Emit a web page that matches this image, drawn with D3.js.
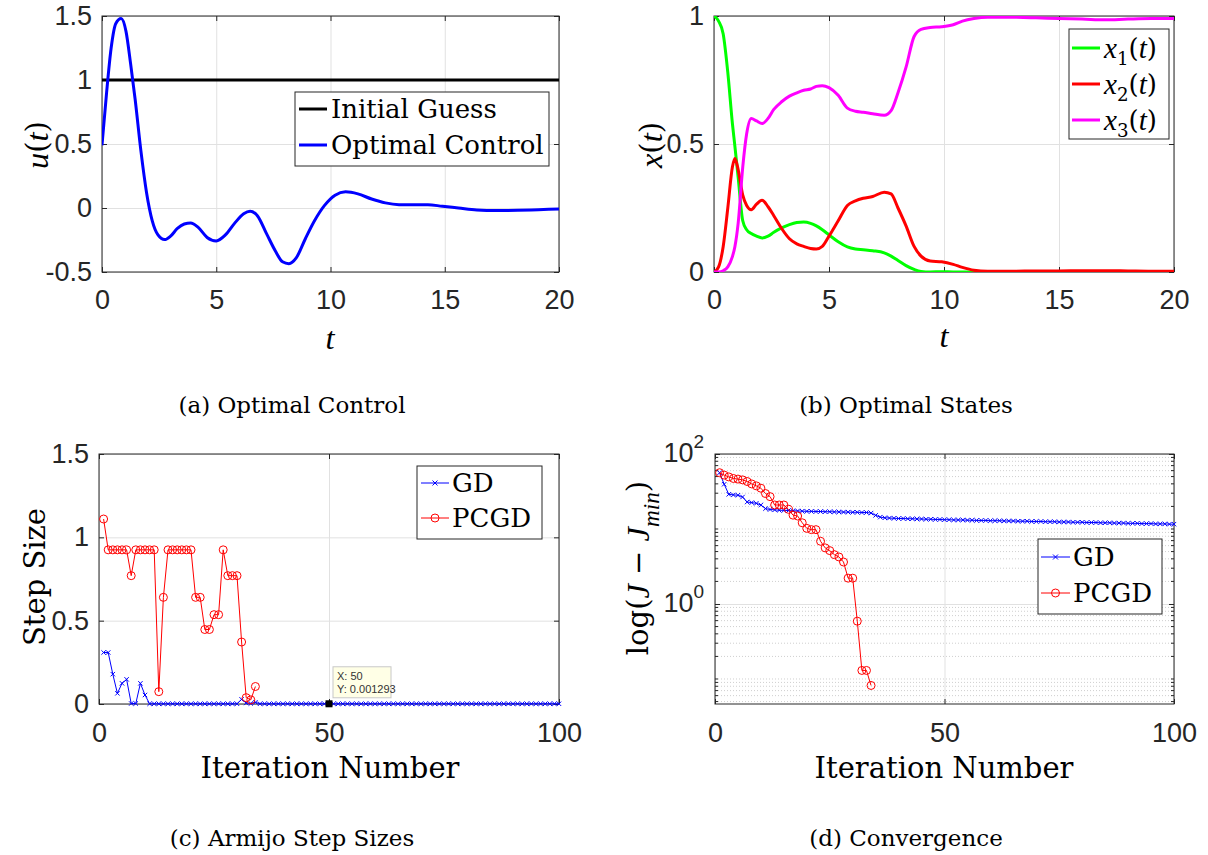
<!DOCTYPE html>
<html>
<head>
<meta charset="utf-8">
<script src="https://cdn.jsdelivr.net/npm/d3@7"></script>
<style>
  body { margin: 0; background: #fff; }
  svg { display: block; }
</style>
</head>
<body>
<div id="fig"></div>
<script>
// ---- (a) optimal control u(t)
const uT = [0,0.2,0.4,0.6,0.84,1.05,1.25,1.45,1.7,1.95,2.2,2.45,2.74,3.0,3.3,3.6,3.88,4.2,4.6,5.0,5.4,5.8,6.2,6.48,6.8,7.2,7.6,7.9,8.18,8.5,8.9,9.3,9.74,10.2,10.66,11.2,11.8,12.4,13.0,13.6,14.26,14.9,15.6,16.4,17.27,18.2,19.1,20]
const uOpt = [0.49,0.9,1.25,1.44,1.48,1.38,1.13,0.85,0.45,0.12,-0.1,-0.21,-0.247,-0.22,-0.16,-0.125,-0.117,-0.15,-0.23,-0.257,-0.21,-0.12,-0.045,-0.025,-0.06,-0.2,-0.34,-0.42,-0.435,-0.39,-0.24,-0.1,0.02,0.1,0.126,0.11,0.07,0.04,0.026,0.025,0.026,0.013,0,-0.015,-0.02,-0.018,-0.013,-0.008]
const guessT = [0, 20]
const uGuess = [1, 1]

// ---- (b) optimal states
const stateT = [0,0.2,0.4,0.6,0.8,0.91,1.05,1.25,1.42,1.62,1.85,2.09,2.35,2.6,2.94,3.28,3.6,3.9,4.2,4.45,4.71,5.0,5.4,5.8,6.15,6.49,6.9,7.4,7.7,8.0,8.35,8.7,9.0,9.4,9.9,10.4,10.8,11.3,11.9,13,14,15,16,17,18,19,20]
const x1 = [1.0,0.98,0.93,0.78,0.58,0.49,0.37,0.2,0.165,0.15,0.14,0.133,0.14,0.155,0.172,0.185,0.193,0.195,0.19,0.18,0.165,0.145,0.118,0.098,0.09,0.087,0.083,0.075,0.062,0.045,0.025,0.01,0.002,0,0.001,0,0,0,0,0,0,0,0,0,0,0,0]
const x2 = [0,0.02,0.1,0.25,0.41,0.443,0.4,0.3,0.26,0.243,0.265,0.28,0.255,0.22,0.17,0.13,0.11,0.1,0.092,0.09,0.1,0.14,0.2,0.26,0.278,0.288,0.295,0.312,0.305,0.25,0.18,0.1,0.062,0.043,0.04,0.03,0.018,0.007,0.003,0.003,0.004,0.004,0.005,0.005,0.004,0.003,0.003]
const x3 = [0,0,0.005,0.02,0.06,0.1,0.19,0.41,0.54,0.6,0.59,0.58,0.6,0.635,0.665,0.687,0.7,0.71,0.715,0.725,0.728,0.72,0.69,0.64,0.628,0.624,0.618,0.612,0.63,0.7,0.8,0.92,0.948,0.955,0.958,0.966,0.98,0.99,0.995,0.995,0.993,0.99,0.988,0.985,0.988,0.99,0.99]

// ---- (c) Armijo step sizes, iterations 1..n
const stepGD = [0.309,0.309,0.179,0.064,0.124,0.148,0.003,0.003,0.124,0.054,
  0.0013,0.0013,0.0013,0.0013,0.0013,0.0013,0.0013,0.0013,0.0013,0.0013,
  0.0013,0.0013,0.0013,0.0013,0.0013,0.0013,0.0013,0.0013,0.0013,0.0013,
  0.028,0.006,0.003,0.01,0.0013,0.0013,0.0013,0.0013,0.0013,0.0013,
  0.0013,0.0013,0.0013,0.0013,0.0013,0.0013,0.0013,0.0013,0.0013,0.001293,
  0.0013,0.0013,0.0013,0.0013,0.0013,0.0013,0.0013,0.0013,0.0013,0.0013,
  0.0013,0.0013,0.0013,0.0013,0.0013,0.0013,0.0013,0.0013,0.0013,0.0013,
  0.0013,0.0013,0.0013,0.0013,0.0013,0.0013,0.0013,0.0013,0.0013,0.0013,
  0.0013,0.0013,0.0013,0.0013,0.0013,0.0013,0.0013,0.0013,0.0013,0.0013,
  0.0013,0.0013,0.0013,0.0013,0.0013,0.0013,0.0013,0.0013,0.0013,0.0013]
const stepPCGD = [1.11,0.925,0.925,0.925,0.925,0.925,0.77,0.925,0.925,0.925,0.925,0.925,0.074,0.64,0.925,0.925,0.925,0.925,0.925,0.925,0.64,0.64,0.447,0.447,0.536,0.536,0.925,0.77,0.77,0.77,0.372,0.038,0.025,0.105]
const tipX = 50, tipY = 0.001293

// ---- (d) convergence J - Jmin
const costGD = [56.3,39.5,29.0,28.5,28.2,26.7,22.9,22.5,22.0,20.9,
  18.7,18.2,18.0,17.8,17.7,17.6,17.5,17.4,17.3,17.2,
  17.2,17.1,17.1,17.0,17.0,16.9,16.9,16.8,16.8,16.7,
  16.7,16.6,16.6,16.3,15.2,14.4,14.1,14.0,13.9,13.8,
  13.8,13.7,13.7,13.6,13.6,13.5,13.5,13.4,13.4,13.3,
  13.3,13.2,13.2,13.2,13.1,13.1,13.0,13.0,13.0,12.9,
  12.9,12.9,12.8,12.8,12.8,12.7,12.7,12.7,12.6,12.6,
  12.6,12.5,12.5,12.5,12.4,12.4,12.4,12.3,12.3,12.3,
  12.2,12.2,12.2,12.1,12.1,12.1,12.0,12.0,12.0,11.9,
  11.9,11.9,11.8,11.8,11.8,11.7,11.7,11.7,11.6,11.6]
const costPCGD = [56.3,52.3,49.5,47.2,46.3,45.2,43,39.9,37.6,35,29.7,27,20.9,20.9,20.9,18.3,15.3,14.9,12.1,10.2,9.8,9.8,6.86,5.6,5.15,4.55,4.24,3.63,2.21,2.21,0.59,0.13,0.13,0.082]

const tTicks = [0, 5, 10, 15, 20]
const uTicks = [-0.5, 0, 0.5, 1, 1.5]
const xStateTicks = [0, 0.5, 1]
const iterTicks = [0, 50, 100]
const stepTicks = [0, 0.5, 1, 1.5]
const costTicks = [1, 100]

const W = 1208, H = 855
const axisColor = "#262626", gridColor = "#e1e1e1"
const tickFont = "'Liberation Sans', Arial, sans-serif"
const texFont = "'DejaVu Serif', serif"
const mathFont = "'Liberation Serif', serif"

const svg = d3.select("#fig").append("svg")
  .attr("width", W).attr("height", H)
svg.append("rect").attr("width", W).attr("height", H).attr("fill", "#fff")

const A = {l: 102, r: 559, t: 16, b: 272}
const B = {l: 714, r: 1174, t: 16, b: 272}
const C = {l: 99, r: 559, t: 454, b: 704}
const D = {l: 715, r: 1174, t: 454, b: 704}

function grid(b, x, y, xt, yt) {
  const g = svg.append("g")
  g.append("g").attr("transform", `translate(0,${b.b})`)
    .call(d3.axisBottom(x).tickValues(xt).tickSize(-(b.b - b.t)).tickFormat(""))
    .call(s => { s.select(".domain").remove(); s.selectAll("line").attr("stroke", gridColor) })
  g.append("g").attr("transform", `translate(${b.l},0)`)
    .call(d3.axisLeft(y).tickValues(yt).tickSize(-(b.r - b.l)).tickFormat(""))
    .call(s => { s.select(".domain").remove(); s.selectAll("line").attr("stroke", gridColor) })
}

function frame(b, x, y, xt, yt, xpad, yfmt) {
  const g = svg.append("g")
  const style = s => {
    s.select(".domain").remove()
    s.selectAll("line").attr("stroke", axisColor)
    s.selectAll("text").attr("fill", axisColor).attr("font-family", tickFont).attr("font-size", 27)
  }
  g.append("g").attr("transform", `translate(0,${b.b})`)
    .call(d3.axisBottom(x).tickValues(xt).tickSizeInner(-5).tickSizeOuter(0).tickPadding(xpad).tickFormat(d => String(d)))
    .call(style)
  g.append("g").attr("transform", `translate(0,${b.t})`)
    .call(d3.axisTop(x).tickValues(xt).tickSizeInner(-5).tickSizeOuter(0).tickFormat(""))
    .call(style)
  g.append("g").attr("transform", `translate(${b.l},0)`)
    .call(d3.axisLeft(y).tickValues(yt).tickSizeInner(-5).tickSizeOuter(0).tickPadding(10).tickFormat(yfmt || (d => String(d))))
    .call(style)
  g.append("g").attr("transform", `translate(${b.r},0)`)
    .call(d3.axisRight(y).tickValues(yt).tickSizeInner(-5).tickSizeOuter(0).tickFormat(""))
    .call(style)
  g.append("rect").attr("x", b.l).attr("y", b.t)
    .attr("width", b.r - b.l).attr("height", b.b - b.t)
    .attr("fill", "none").attr("stroke", axisColor).attr("stroke-width", 1)
  return g
}

function clipFor(id, b) {
  svg.append("clipPath").attr("id", id).append("rect")
    .attr("x", b.l).attr("y", b.t).attr("width", b.r - b.l).attr("height", b.b - b.t)
  return `url(#${id})`
}

// italic math letters are set in a Times-like italic, closer to LaTeX
function mathText(sel, parts) {
  parts.forEach(p => {
    const t = sel.append("tspan").text(p.s)
    if (p.i) t.attr("font-style", "italic").attr("font-family", mathFont).attr("font-size", p.sub ? "80%" : "112%")
    if (p.sub) t.attr("baseline-shift", "sub")
    if (p.sub && !p.i) t.attr("font-size", "70%")
  })
  return sel
}

function label(x, y, parts, size, rotate, anchor) {
  const t = svg.append("text")
    .attr("transform", `translate(${x},${y})` + (rotate ? " rotate(-90)" : ""))
    .attr("text-anchor", anchor || "middle").attr("dominant-baseline", "central")
    .attr("font-family", texFont).attr("font-size", size).attr("fill", "#000")
  return mathText(t, parts)
}

function markers(g, pts, kind, color, r) {
  if (kind === "o") {
    g.selectAll(null).data(pts).enter().append("circle")
      .attr("cx", d => d[0]).attr("cy", d => d[1]).attr("r", r)
      .attr("fill", "none").attr("stroke", color).attr("stroke-width", 1)
  } else {
    g.selectAll(null).data(pts).enter().append("path")
      .attr("d", d => `M${d[0]-r},${d[1]-r}L${d[0]+r},${d[1]+r}M${d[0]-r},${d[1]+r}L${d[0]+r},${d[1]-r}`)
      .attr("stroke", color).attr("stroke-width", 1)
  }
}

function legend(box, items) {
  const g = svg.append("g")
  g.append("rect").attr("x", box.x0).attr("y", box.y0)
    .attr("width", box.x1 - box.x0).attr("height", box.y1 - box.y0)
    .attr("fill", "#fff").attr("stroke", axisColor).attr("stroke-width", 1)
  items.forEach(it => {
    g.append("line").attr("x1", box.l0).attr("x2", box.l1).attr("y1", it.y).attr("y2", it.y)
      .attr("stroke", it.color).attr("stroke-width", it.lw)
    if (it.marker) markers(g, [[(box.l0 + box.l1) / 2, it.y]], it.marker, it.color, it.marker === "o" ? 4 : 2.5)
    const t = g.append("text").attr("x", box.tx).attr("y", it.y)
      .attr("dominant-baseline", "central")
      .attr("font-family", texFont).attr("font-size", box.size).attr("fill", "#000")
    mathText(t, it.parts)
  })
}

// ================= (a)
{
  const x = d3.scaleLinear().domain([0, 20]).range([A.l, A.r])
  const y = d3.scaleLinear().domain([-0.5, 1.5]).range([A.b, A.t])
  grid(A, x, y, tTicks, uTicks)
  frame(A, x, y, tTicks, uTicks, 18)
  const clip = clipFor("clipA", A)
  svg.append("path").datum(uGuess).attr("clip-path", clip)
    .attr("d", d3.line().x((d, i) => x(guessT[i])).y(d => y(d)))
    .attr("fill", "none").attr("stroke", "#000").attr("stroke-width", 3)
  svg.append("path").datum(uOpt).attr("clip-path", clip)
    .attr("d", d3.line().x((d, i) => x(uT[i])).y(d => y(d)).curve(d3.curveMonotoneX))
    .attr("fill", "none").attr("stroke", "#0000ff").attr("stroke-width", 3)
  legend({x0: 295, y0: 92, x1: 549, y1: 166, l0: 299, l1: 327, tx: 331, size: 26}, [
    {y: 109, color: "#000", lw: 3, parts: [{s: "Initial Guess"}]},
    {y: 145, color: "#0000ff", lw: 3, parts: [{s: "Optimal Control"}]}
  ])
  label(37, 145, [{s: "u", i: 1}, {s: "("}, {s: "t", i: 1}, {s: ")"}], 29, true)
  label(330, 338, [{s: "t", i: 1}], 29)
  label(292, 405, [{s: "(a) Optimal Control"}], 23)
}

// ================= (b)
{
  const x = d3.scaleLinear().domain([0, 20]).range([B.l, B.r])
  const y = d3.scaleLinear().domain([0, 1]).range([B.b, B.t])
  grid(B, x, y, tTicks, xStateTicks)
  frame(B, x, y, tTicks, xStateTicks, 18)
  const clip = clipFor("clipB", B)
  const series = [[x1, "#00ff00"], [x2, "#ff0000"], [x3, "#ff00ff"]]
  series.forEach(([vals, color]) => {
    svg.append("path").datum(vals).attr("clip-path", clip)
      .attr("d", d3.line().x((d, i) => x(stateT[i])).y(d => y(d)).curve(d3.curveMonotoneX))
      .attr("fill", "none").attr("stroke", color).attr("stroke-width", 3)
  })
  legend({x0: 1069, y0: 29, x1: 1169, y1: 139, l0: 1072, l1: 1100, tx: 1104, size: 26}, [
    {y: 48, color: "#00ff00", lw: 3, parts: [{s: "x", i: 1}, {s: "1", sub: 1}, {s: "("}, {s: "t", i: 1}, {s: ")"}]},
    {y: 84, color: "#ff0000", lw: 3, parts: [{s: "x", i: 1}, {s: "2", sub: 1}, {s: "("}, {s: "t", i: 1}, {s: ")"}]},
    {y: 120, color: "#ff00ff", lw: 3, parts: [{s: "x", i: 1}, {s: "3", sub: 1}, {s: "("}, {s: "t", i: 1}, {s: ")"}]}
  ])
  label(651, 145, [{s: "x", i: 1}, {s: "("}, {s: "t", i: 1}, {s: ")"}], 29, true)
  label(944, 336, [{s: "t", i: 1}], 29)
  label(906, 405, [{s: "(b) Optimal States"}], 23)
}

// ================= (c)
{
  const x = d3.scaleLinear().domain([0, 100]).range([C.l, C.r])
  const y = d3.scaleLinear().domain([0, 1.5]).range([C.b, C.t])
  grid(C, x, y, iterTicks, stepTicks)
  frame(C, x, y, iterTicks, stepTicks, 19)
  const line = d3.line().x((d, i) => x(i + 1)).y(d => y(d))
  const g = svg.append("g")
  g.append("path").datum(stepGD).attr("d", line)
    .attr("fill", "none").attr("stroke", "#0000ff").attr("stroke-width", 1)
  markers(g, stepGD.map((d, i) => [x(i + 1), y(d)]), "x", "#0000ff", 2.2)
  g.append("path").datum(stepPCGD).attr("d", line)
    .attr("fill", "none").attr("stroke", "#ff0000").attr("stroke-width", 1)
  markers(g, stepPCGD.map((d, i) => [x(i + 1), y(d)]), "o", "#ff0000", 4)
  // data tip
  g.append("rect").attr("x", x(tipX) - 3.5).attr("y", y(tipY) - 3.5)
    .attr("width", 7).attr("height", 7).attr("fill", "#000")
  g.append("rect").attr("x", x(tipX) + 4).attr("y", y(tipY) - 37)
    .attr("width", 58).attr("height", 31)
    .attr("fill", "#ffffe6").attr("stroke", "#c8c8c8")
  g.append("text").attr("x", x(tipX) + 8).attr("y", y(tipY) - 24)
    .attr("font-family", tickFont).attr("font-size", 11).attr("fill", "#333")
    .text("X: " + tipX)
  g.append("text").attr("x", x(tipX) + 8).attr("y", y(tipY) - 11)
    .attr("font-family", tickFont).attr("font-size", 11).attr("fill", "#333")
    .text("Y: " + tipY)
  legend({x0: 417, y0: 466, x1: 542, y1: 539, l0: 421, l1: 449, tx: 452, size: 26}, [
    {y: 483, color: "#0000ff", lw: 1, marker: "x", parts: [{s: "GD"}]},
    {y: 518, color: "#ff0000", lw: 1, marker: "o", parts: [{s: "PCGD"}]}
  ])
  label(35, 577, [{s: "Step Size"}], 29, true)
  label(330, 768, [{s: "Iteration Number"}], 29)
  label(292, 838, [{s: "(c) Armijo Step Sizes"}], 23)
}

// ================= (d)
{
  const x = d3.scaleLinear().domain([0, 100]).range([D.l, D.r])
  const y = d3.scaleLog().domain([0.0464, 100]).range([D.b, D.t])
  const minor = y.ticks().filter(v => v !== 1 && v !== 100)
  // minor dotted grid
  svg.append("g").selectAll("line").data(minor).enter().append("line")
    .attr("x1", D.l).attr("x2", D.r).attr("y1", d => y(d)).attr("y2", d => y(d))
    .attr("stroke", "#cfcfcf").attr("stroke-dasharray", "1,2")
  grid(D, x, y, iterTicks, costTicks)
  const g0 = frame(D, x, y, iterTicks, costTicks, 19, () => "")
  // minor ticks on left/right
  g0.append("g").selectAll("line").data(minor).enter().append("line")
    .attr("x1", D.l).attr("x2", D.l + 3).attr("y1", d => y(d)).attr("y2", d => y(d))
    .attr("stroke", axisColor)
  g0.append("g").selectAll("line").data(minor).enter().append("line")
    .attr("x1", D.r - 3).attr("x2", D.r).attr("y1", d => y(d)).attr("y2", d => y(d))
    .attr("stroke", axisColor)
  costTicks.forEach(v => {
    const t = svg.append("text").attr("x", D.l - 11).attr("y", y(v) + 8)
      .attr("text-anchor", "end").attr("font-family", tickFont).attr("font-size", 27).attr("fill", axisColor)
    t.append("tspan").text("10")
    t.append("tspan").attr("font-size", 19).attr("dy", -14).text(String(Math.round(Math.log10(v))))
  })
  const line = d3.line().x((d, i) => x(i + 1)).y(d => y(d))
  const g = svg.append("g")
  g.append("path").datum(costGD).attr("d", line)
    .attr("fill", "none").attr("stroke", "#0000ff").attr("stroke-width", 1)
  markers(g, costGD.map((d, i) => [x(i + 1), y(d)]), "x", "#0000ff", 2.2)
  g.append("path").datum(costPCGD).attr("d", line)
    .attr("fill", "none").attr("stroke", "#ff0000").attr("stroke-width", 1)
  markers(g, costPCGD.map((d, i) => [x(i + 1), y(d)]), "o", "#ff0000", 4)
  legend({x0: 1038, y0: 539, x1: 1162, y1: 614, l0: 1041, l1: 1070, tx: 1073, size: 26}, [
    {y: 557, color: "#0000ff", lw: 1, marker: "x", parts: [{s: "GD"}]},
    {y: 593, color: "#ff0000", lw: 1, marker: "o", parts: [{s: "PCGD"}]}
  ])
  label(638, 568, [{s: "log("}, {s: "J", i: 1}, {s: " − "}, {s: "J", i: 1}, {s: "min", i: 1, sub: 1}, {s: ")"}], 29, true)
  label(944, 768, [{s: "Iteration Number"}], 29)
  label(906, 838, [{s: "(d) Convergence"}], 23)
}
</script>
</body>
</html>
